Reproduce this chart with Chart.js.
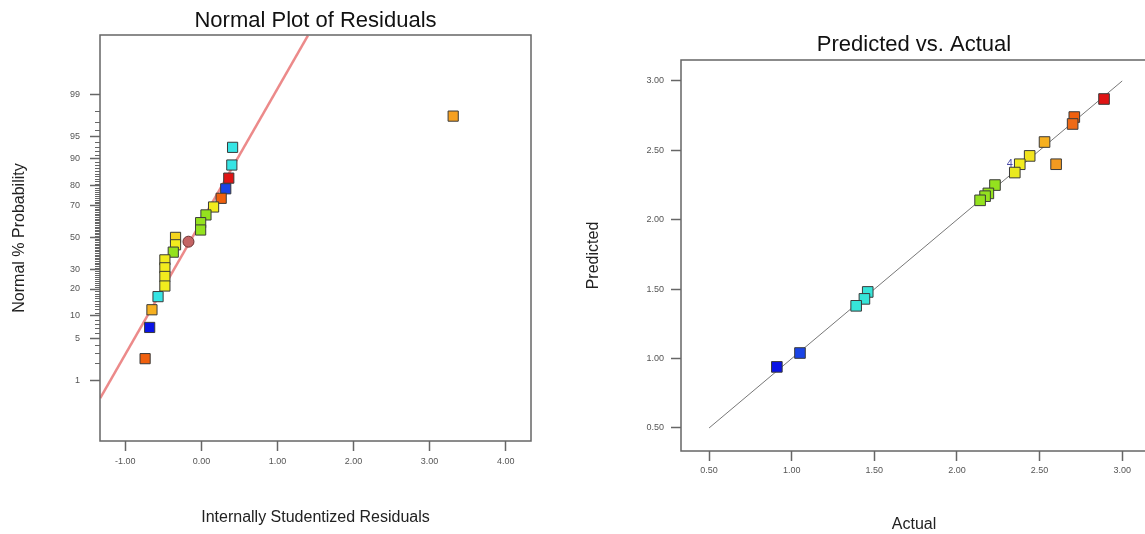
<!DOCTYPE html>
<html>
<head>
<meta charset="utf-8">
<script src="https://cdn.jsdelivr.net/npm/chart.js@4.4.0/dist/chart.umd.min.js"></script>
<style>
  body { margin: 0; background: #fff; overflow: hidden; width: 1145px; height: 534px; }
  #left { position: absolute; left: 0; top: 0; }
  #right { position: absolute; left: 570px; top: 0; }
</style>
</head>
<body>
<canvas id="left" width="560" height="534"></canvas>
<canvas id="right" width="600" height="534"></canvas>
<script>
// Normal plot of residuals
const residuals  = [3.31, 0.41, 0.40, 0.36, 0.32, 0.26, 0.16, 0.06, -0.01, -0.01, -0.34, -0.34, -0.37, -0.48, -0.48, -0.48, -0.48, -0.57, -0.65, -0.68, -0.74];
const normalProb = [97.6, 92.9, 88.1, 83.3, 78.6, 73.8, 69.0, 64.3, 59.5, 54.8, 50.0, 45.2, 40.5, 35.7, 31.0, 26.2, 21.4, 16.7, 11.9, 7.1, 2.4];
const residualColors = ['#f6a020', '#36e4e4', '#36e4e4', '#e01414', '#1a44e6', '#f0600e', '#f2ec1e', '#94e21e', '#94e21e', '#94e21e',
                        '#f4d41e', '#f2ec1e', '#94e21e', '#f2ec1e', '#f2ec1e', '#f2ec1e', '#f2ec1e', '#36e4e4', '#f6b020', '#0a14e6', '#f0600e'];
const circleResidual = [-0.17];
const circleProb = [47.2];
const fitLineResidual = [-1.33, 1.40];
const fitLineProb = [0.44, 99.95];
const probTicks = [1, 5, 10, 20, 30, 50, 70, 80, 90, 95, 99];
const residualTicks = [-1, 0, 1, 2, 3, 4];

// Predicted vs. actual
const actual    = [2.89, 2.71, 2.70, 2.53, 2.60, 2.44, 2.38, 2.35, 2.23, 2.19, 2.17, 2.14, 1.46, 1.44, 1.39, 1.05, 0.91];
const predicted = [2.87, 2.74, 2.69, 2.56, 2.40, 2.46, 2.40, 2.34, 2.25, 2.19, 2.17, 2.14, 1.48, 1.43, 1.38, 1.04, 0.94];
const pvaColors = ['#e01414', '#f0600e', '#ee6a16', '#f6b020', '#f29a20', '#f2e41e', '#f2ec1e', '#eaea20', '#94e21e', '#94e21e',
                   '#94e21e', '#94e21e', '#36e4d8', '#36e4d8', '#36e4d8', '#1a44e6', '#0a14e6'];
const diagLine = [0.5, 3.0];
const pvaTicks = [0.5, 1.0, 1.5, 2.0, 2.5, 3.0];
const countLabel = { x: 2.32, y: 2.40, text: '4' };

const FONT = '"Liberation Sans", Arial, sans-serif';
const AXIS = '#666';
const TICKTEXT = '#555';

// inverse normal cdf (Acklam)
function probit(p) {
  const a = [-3.969683028665376e+01, 2.209460984245205e+02, -2.759285104469687e+02, 1.383577518672690e+02, -3.066479806614716e+01, 2.506628277459239e+00];
  const b = [-5.447609879822406e+01, 1.615858368580409e+02, -1.556989798598866e+02, 6.680131188771972e+01, -1.328068155288572e+01];
  const c = [-7.784894002430293e-03, -3.223964580411365e-01, -2.400758277161838e+00, -2.549732539343734e+00, 4.374664141464968e+00, 2.938163982698783e+00];
  const d = [7.784695709041462e-03, 3.224671290700398e-01, 2.445134137142996e+00, 3.754408661907416e+00];
  const pl = 0.02425;
  let q, r;
  if (p < pl) {
    q = Math.sqrt(-2 * Math.log(p));
    return (((((c[0]*q+c[1])*q+c[2])*q+c[3])*q+c[4])*q+c[5]) / ((((d[0]*q+d[1])*q+d[2])*q+d[3])*q+1);
  }
  if (p > 1 - pl) {
    q = Math.sqrt(-2 * Math.log(1 - p));
    return -(((((c[0]*q+c[1])*q+c[2])*q+c[3])*q+c[4])*q+c[5]) / ((((d[0]*q+d[1])*q+d[2])*q+d[3])*q+1);
  }
  q = p - 0.5; r = q * q;
  return (((((a[0]*r+a[1])*r+a[2])*r+a[3])*r+a[4])*r+a[5])*q / (((((b[0]*r+b[1])*r+b[2])*r+b[3])*r+b[4])*r+1);
}
const z = pct => probit(pct / 100);

// box round the plot area
const framePlugin = {
  id: 'frame',
  afterDatasetsDraw(chart) {
    const { ctx, chartArea: a } = chart;
    ctx.save();
    ctx.strokeStyle = AXIS;
    ctx.lineWidth = 1.5;
    ctx.strokeRect(a.left, a.top, a.right - a.left, a.bottom - a.top);
    ctx.restore();
  }
};

// small ticks on the probability axis
const minorPlugin = {
  id: 'minorTicks',
  afterDraw(chart) {
    const { ctx, chartArea: a, scales } = chart;
    ctx.save();
    ctx.strokeStyle = AXIS;
    ctx.lineWidth = 1;
    for (let p = 2; p <= 98; p++) {
      if (probTicks.includes(p)) continue;
      const y = Math.round(scales.y.getPixelForValue(z(p))) + 0.5;
      ctx.beginPath();
      ctx.moveTo(a.left - 5, y);
      ctx.lineTo(a.left, y);
      ctx.stroke();
    }
    ctx.restore();
  }
};

// count of stacked points
const countPlugin = {
  id: 'countLabel',
  afterDatasetsDraw(chart) {
    const { ctx, scales } = chart;
    ctx.save();
    ctx.fillStyle = '#4a4aa8';
    ctx.font = '11px ' + FONT;
    ctx.textAlign = 'center';
    ctx.textBaseline = 'middle';
    ctx.fillText(countLabel.text, scales.x.getPixelForValue(countLabel.x), scales.y.getPixelForValue(countLabel.y));
    ctx.restore();
  }
};

function axisOpts(o) {
  return {
    type: 'linear',
    min: o.min,
    max: o.max,
    afterBuildTicks: s => { s.ticks = o.ticks.map(v => ({ value: v })); },
    afterFit: o.fit,
    ticks: { callback: o.label, font: { family: FONT, size: 9 }, color: TICKTEXT, padding: o.pad, autoSkip: false, maxRotation: 0 },
    grid: { drawOnChartArea: false, drawTicks: true, tickLength: 10, tickColor: AXIS, tickWidth: 1.5 },
    border: { display: false },
    title: { display: true, text: o.title, color: '#222', font: { family: FONT, size: 16 }, padding: o.titlePad }
  };
}

function baseOptions(title, titlePad, padRight) {
  return {
    responsive: false,
    animation: false,
    devicePixelRatio: 1,
    layout: { padding: { left: 0, top: 0, right: padRight, bottom: 0 } },
    plugins: {
      legend: { display: false },
      tooltip: { enabled: false },
      title: { display: true, text: title, fullSize: false, color: '#111', font: { family: FONT, size: 22, weight: 'normal' }, padding: titlePad }
    }
  };
}

const leftOpts = baseOptions('Normal Plot of Residuals', { top: 7.3, bottom: 1.3 }, 29);
leftOpts.scales = {
  x: axisOpts({ min: -1.333, max: 4.333, ticks: residualTicks, label: v => v.toFixed(2), pad: 5,
    fit: s => { s.height = 93; }, title: 'Internally Studentized Residuals', titlePad: { top: 0, bottom: 6.9 } }),
  y: axisOpts({ min: -3.32, max: 3.30, ticks: probTicks.map(z), label: (v, i) => String(probTicks[i]), pad: 10,
    fit: s => { s.width = 100; }, title: 'Normal % Probability', titlePad: { top: 10.4, bottom: 0 } })
};

new Chart(document.getElementById('left'), {
  type: 'scatter',
  data: {
    datasets: [
      {
        data: residuals.map((x, i) => ({ x, y: z(normalProb[i]) })),
        pointStyle: 'rect', pointRadius: 7.2, pointHoverRadius: 7.2,
        pointBackgroundColor: residualColors, pointBorderColor: '#3a3a3a', pointBorderWidth: 1, order: 1
      },
      {
        data: circleResidual.map((x, i) => ({ x, y: z(circleProb[i]) })),
        pointStyle: 'circle', pointRadius: 5.5, pointHoverRadius: 5.5,
        pointBackgroundColor: '#c46464', pointBorderColor: '#6a3030', pointBorderWidth: 1, order: 1
      },
      {
        data: fitLineResidual.map((x, i) => ({ x, y: z(fitLineProb[i]) })),
        showLine: true, pointRadius: 0, borderColor: '#ec8a8a', borderWidth: 2.5, order: 2
      }
    ]
  },
  options: leftOpts,
  plugins: [framePlugin, minorPlugin]
});

const rightOpts = baseOptions('Predicted vs. Actual', { top: 31.8, bottom: 1.8 }, 23);
rightOpts.scales = {
  x: axisOpts({ min: 0.33, max: 3.15, ticks: pvaTicks, label: v => v.toFixed(2), pad: 4.3,
    fit: s => { s.height = 83; }, title: 'Actual', titlePad: { top: 0, bottom: 0 } }),
  y: axisOpts({ min: 0.334, max: 3.151, ticks: pvaTicks, label: v => v.toFixed(2), pad: 7,
    fit: s => { s.width = 111; }, title: 'Predicted', titlePad: { top: 14.4, bottom: 0 } })
};

new Chart(document.getElementById('right'), {
  type: 'scatter',
  data: {
    datasets: [
      {
        data: actual.map((x, i) => ({ x, y: predicted[i] })),
        pointStyle: 'rect', pointRadius: 7.5, pointHoverRadius: 7.5,
        pointBackgroundColor: pvaColors, pointBorderColor: '#3a3a3a', pointBorderWidth: 1, order: 1
      },
      {
        data: diagLine.map(v => ({ x: v, y: v })),
        showLine: true, pointRadius: 0, borderColor: '#777', borderWidth: 1, order: 2
      }
    ]
  },
  options: rightOpts,
  plugins: [framePlugin, countPlugin]
});
</script>
</body>
</html>
